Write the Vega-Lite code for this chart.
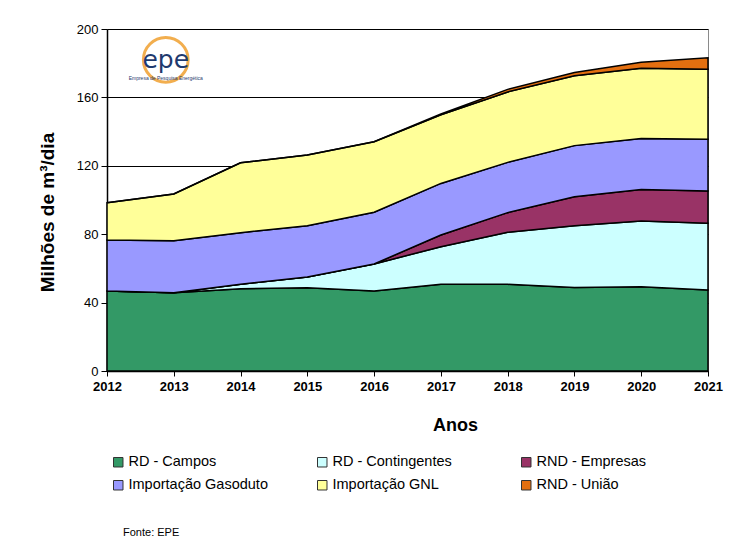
{
  "$schema": "https://vega.github.io/schema/vega-lite/v6.json",
  "width": 601,
  "height": 342,
  "autosize": "none",
  "padding": {"left": 107, "top": 29, "right": 47, "bottom": 181},
  "background": "white",
  "config": {
    "font": "Liberation Sans",
    "view": {"stroke": "#8a8a8a", "strokeWidth": 1}
  },
  "title": {
    "text": "Fonte: EPE",
    "orient": "bottom",
    "anchor": "start",
    "frame": "group",
    "fontSize": 11,
    "fontWeight": "normal",
    "color": "#000",
    "dx": 16,
    "offset": 35
  },
  "datasets": {
    "series": [
      {"ano": 2012, "serie": "RD - Campos", "valor": 46.8},
      {"ano": 2013, "serie": "RD - Campos", "valor": 45.8},
      {"ano": 2014, "serie": "RD - Campos", "valor": 48.1},
      {"ano": 2015, "serie": "RD - Campos", "valor": 48.7},
      {"ano": 2016, "serie": "RD - Campos", "valor": 46.8},
      {"ano": 2017, "serie": "RD - Campos", "valor": 50.7},
      {"ano": 2018, "serie": "RD - Campos", "valor": 50.7},
      {"ano": 2019, "serie": "RD - Campos", "valor": 48.9},
      {"ano": 2020, "serie": "RD - Campos", "valor": 49.3},
      {"ano": 2021, "serie": "RD - Campos", "valor": 47.4},
      {"ano": 2012, "serie": "RD - Contingentes", "valor": 0},
      {"ano": 2013, "serie": "RD - Contingentes", "valor": 0},
      {"ano": 2014, "serie": "RD - Contingentes", "valor": 2.6},
      {"ano": 2015, "serie": "RD - Contingentes", "valor": 6.3},
      {"ano": 2016, "serie": "RD - Contingentes", "valor": 15.8},
      {"ano": 2017, "serie": "RD - Contingentes", "valor": 22.0},
      {"ano": 2018, "serie": "RD - Contingentes", "valor": 30.4},
      {"ano": 2019, "serie": "RD - Contingentes", "valor": 36.1},
      {"ano": 2020, "serie": "RD - Contingentes", "valor": 38.4},
      {"ano": 2021, "serie": "RD - Contingentes", "valor": 39.0},
      {"ano": 2012, "serie": "RND - Empresas", "valor": 0},
      {"ano": 2013, "serie": "RND - Empresas", "valor": 0},
      {"ano": 2014, "serie": "RND - Empresas", "valor": 0},
      {"ano": 2015, "serie": "RND - Empresas", "valor": 0},
      {"ano": 2016, "serie": "RND - Empresas", "valor": 0},
      {"ano": 2017, "serie": "RND - Empresas", "valor": 6.8},
      {"ano": 2018, "serie": "RND - Empresas", "valor": 11.5},
      {"ano": 2019, "serie": "RND - Empresas", "valor": 16.9},
      {"ano": 2020, "serie": "RND - Empresas", "valor": 18.5},
      {"ano": 2021, "serie": "RND - Empresas", "valor": 18.9},
      {"ano": 2012, "serie": "Importação Gasoduto", "valor": 29.8},
      {"ano": 2013, "serie": "Importação Gasoduto", "valor": 30.4},
      {"ano": 2014, "serie": "Importação Gasoduto", "valor": 30.2},
      {"ano": 2015, "serie": "Importação Gasoduto", "valor": 30.0},
      {"ano": 2016, "serie": "Importação Gasoduto", "valor": 30.2},
      {"ano": 2017, "serie": "Importação Gasoduto", "valor": 30.2},
      {"ano": 2018, "serie": "Importação Gasoduto", "valor": 29.4},
      {"ano": 2019, "serie": "Importação Gasoduto", "valor": 29.9},
      {"ano": 2020, "serie": "Importação Gasoduto", "valor": 29.8},
      {"ano": 2021, "serie": "Importação Gasoduto", "valor": 30.2},
      {"ano": 2012, "serie": "Importação GNL", "valor": 21.8},
      {"ano": 2013, "serie": "Importação GNL", "valor": 27.3},
      {"ano": 2014, "serie": "Importação GNL", "valor": 40.9},
      {"ano": 2015, "serie": "Importação GNL", "valor": 41.3},
      {"ano": 2016, "serie": "Importação GNL", "valor": 41.3},
      {"ano": 2017, "serie": "Importação GNL", "valor": 40.1},
      {"ano": 2018, "serie": "Importação GNL", "valor": 41.2},
      {"ano": 2019, "serie": "Importação GNL", "valor": 40.9},
      {"ano": 2020, "serie": "Importação GNL", "valor": 41.0},
      {"ano": 2021, "serie": "Importação GNL", "valor": 40.9},
      {"ano": 2012, "serie": "RND - União", "valor": 0},
      {"ano": 2013, "serie": "RND - União", "valor": 0},
      {"ano": 2014, "serie": "RND - União", "valor": 0},
      {"ano": 2015, "serie": "RND - União", "valor": 0},
      {"ano": 2016, "serie": "RND - União", "valor": 0},
      {"ano": 2017, "serie": "RND - União", "valor": 0.5},
      {"ano": 2018, "serie": "RND - União", "valor": 1.5},
      {"ano": 2019, "serie": "RND - União", "valor": 1.9},
      {"ano": 2020, "serie": "RND - União", "valor": 3.5},
      {"ano": 2021, "serie": "RND - União", "valor": 6.8}
    ],
    "logo": [
      {"ano": 2012.88, "valor": 182, "texto": "epe", "sub": "Empresa de Pesquisa Energética", "subvalor": 171.5}
    ]
  },
  "layer": [
    {
      "data": {"name": "series"},
      "mark": {"type": "area", "stroke": "#000", "strokeWidth": 1.5, "interpolate": "linear"},
      "encoding": {
        "x": {
          "field": "ano", "type": "quantitative",
          "scale": {"domain": [2012, 2021], "nice": false, "zero": false},
          "axis": {
            "title": "Anos", "format": "d", "values": [2012, 2013, 2014, 2015, 2016, 2017, 2018, 2019, 2020, 2021],
            "grid": false, "domainColor": "#000", "domainWidth": 1.5, "tickColor": "#000", "tickSize": 5,
            "labelFontSize": 13, "labelFontWeight": "bold", "labelColor": "#000", "labelPadding": 4,
            "labelFlush": false,
            "titleFontSize": 18, "titleFontWeight": "bold", "titleColor": "#000", "titlePadding": 23, "titleX": 348
          }
        },
        "y": {
          "field": "valor", "type": "quantitative", "stack": "zero",
          "scale": {"domain": [0, 200], "nice": false},
          "axis": {
            "title": "Milhões de m³/dia", "values": [0, 40, 80, 120, 160, 200],
            "grid": true, "gridColor": "#000", "gridWidth": 1,
            "domainColor": "#000", "domainWidth": 1.5, "tickColor": "#000", "tickSize": 6,
            "labelFontSize": 13, "labelColor": "#000", "labelPadding": 3,
            "titleFontSize": 19, "titleFontWeight": "bold", "titleColor": "#000", "titlePadding": 19, "titleY": 183
          }
        },
        "color": {
          "field": "serie", "type": "nominal",
          "sort": ["RD - Campos", "RD - Contingentes", "RND - Empresas", "Importação Gasoduto", "Importação GNL", "RND - União"],
          "scale": {
            "domain": ["RD - Campos", "RD - Contingentes", "RND - Empresas", "Importação Gasoduto", "Importação GNL", "RND - União"],
            "range": ["#339966", "#CCFFFF", "#993366", "#9999FF", "#FFFF99", "#E36F10"]
          },
          "legend": {
            "title": null, "orient": "none", "legendX": 4, "legendY": 426,
            "direction": "horizontal", "columns": 3, "gridAlign": "all", "columnPadding": 47, "rowPadding": 8,
            "symbolType": "square", "symbolSize": 90, "symbolStrokeColor": "#333", "symbolStrokeWidth": 1,
            "labelFontSize": 14.5, "labelColor": "#000", "labelOffset": 3, "labelLimit": 300
          }
        },
        "order": {"field": "ordem", "type": "quantitative"}
      }
    },
    {
      "data": {"name": "logo"},
      "mark": {"type": "point", "shape": "circle", "filled": false, "stroke": "#F0A030", "strokeWidth": 3, "size": 2000, "opacity": 0.85},
      "encoding": {
        "x": {"field": "ano", "type": "quantitative"},
        "y": {"field": "valor", "type": "quantitative"}
      }
    },
    {
      "data": {"name": "logo"},
      "mark": {"type": "text", "fontSize": 25, "color": "#1F3A6E", "baseline": "middle", "align": "center", "font": "DejaVu Sans"},
      "encoding": {
        "x": {"field": "ano", "type": "quantitative"},
        "y": {"field": "valor", "type": "quantitative"},
        "text": {"field": "texto"}
      }
    },
    {
      "data": {"name": "logo"},
      "mark": {"type": "text", "fontSize": 5, "color": "#1F3A6E", "baseline": "middle", "align": "center"},
      "encoding": {
        "x": {"field": "ano", "type": "quantitative"},
        "y": {"field": "subvalor", "type": "quantitative"},
        "text": {"field": "sub"}
      }
    }
  ]
}
